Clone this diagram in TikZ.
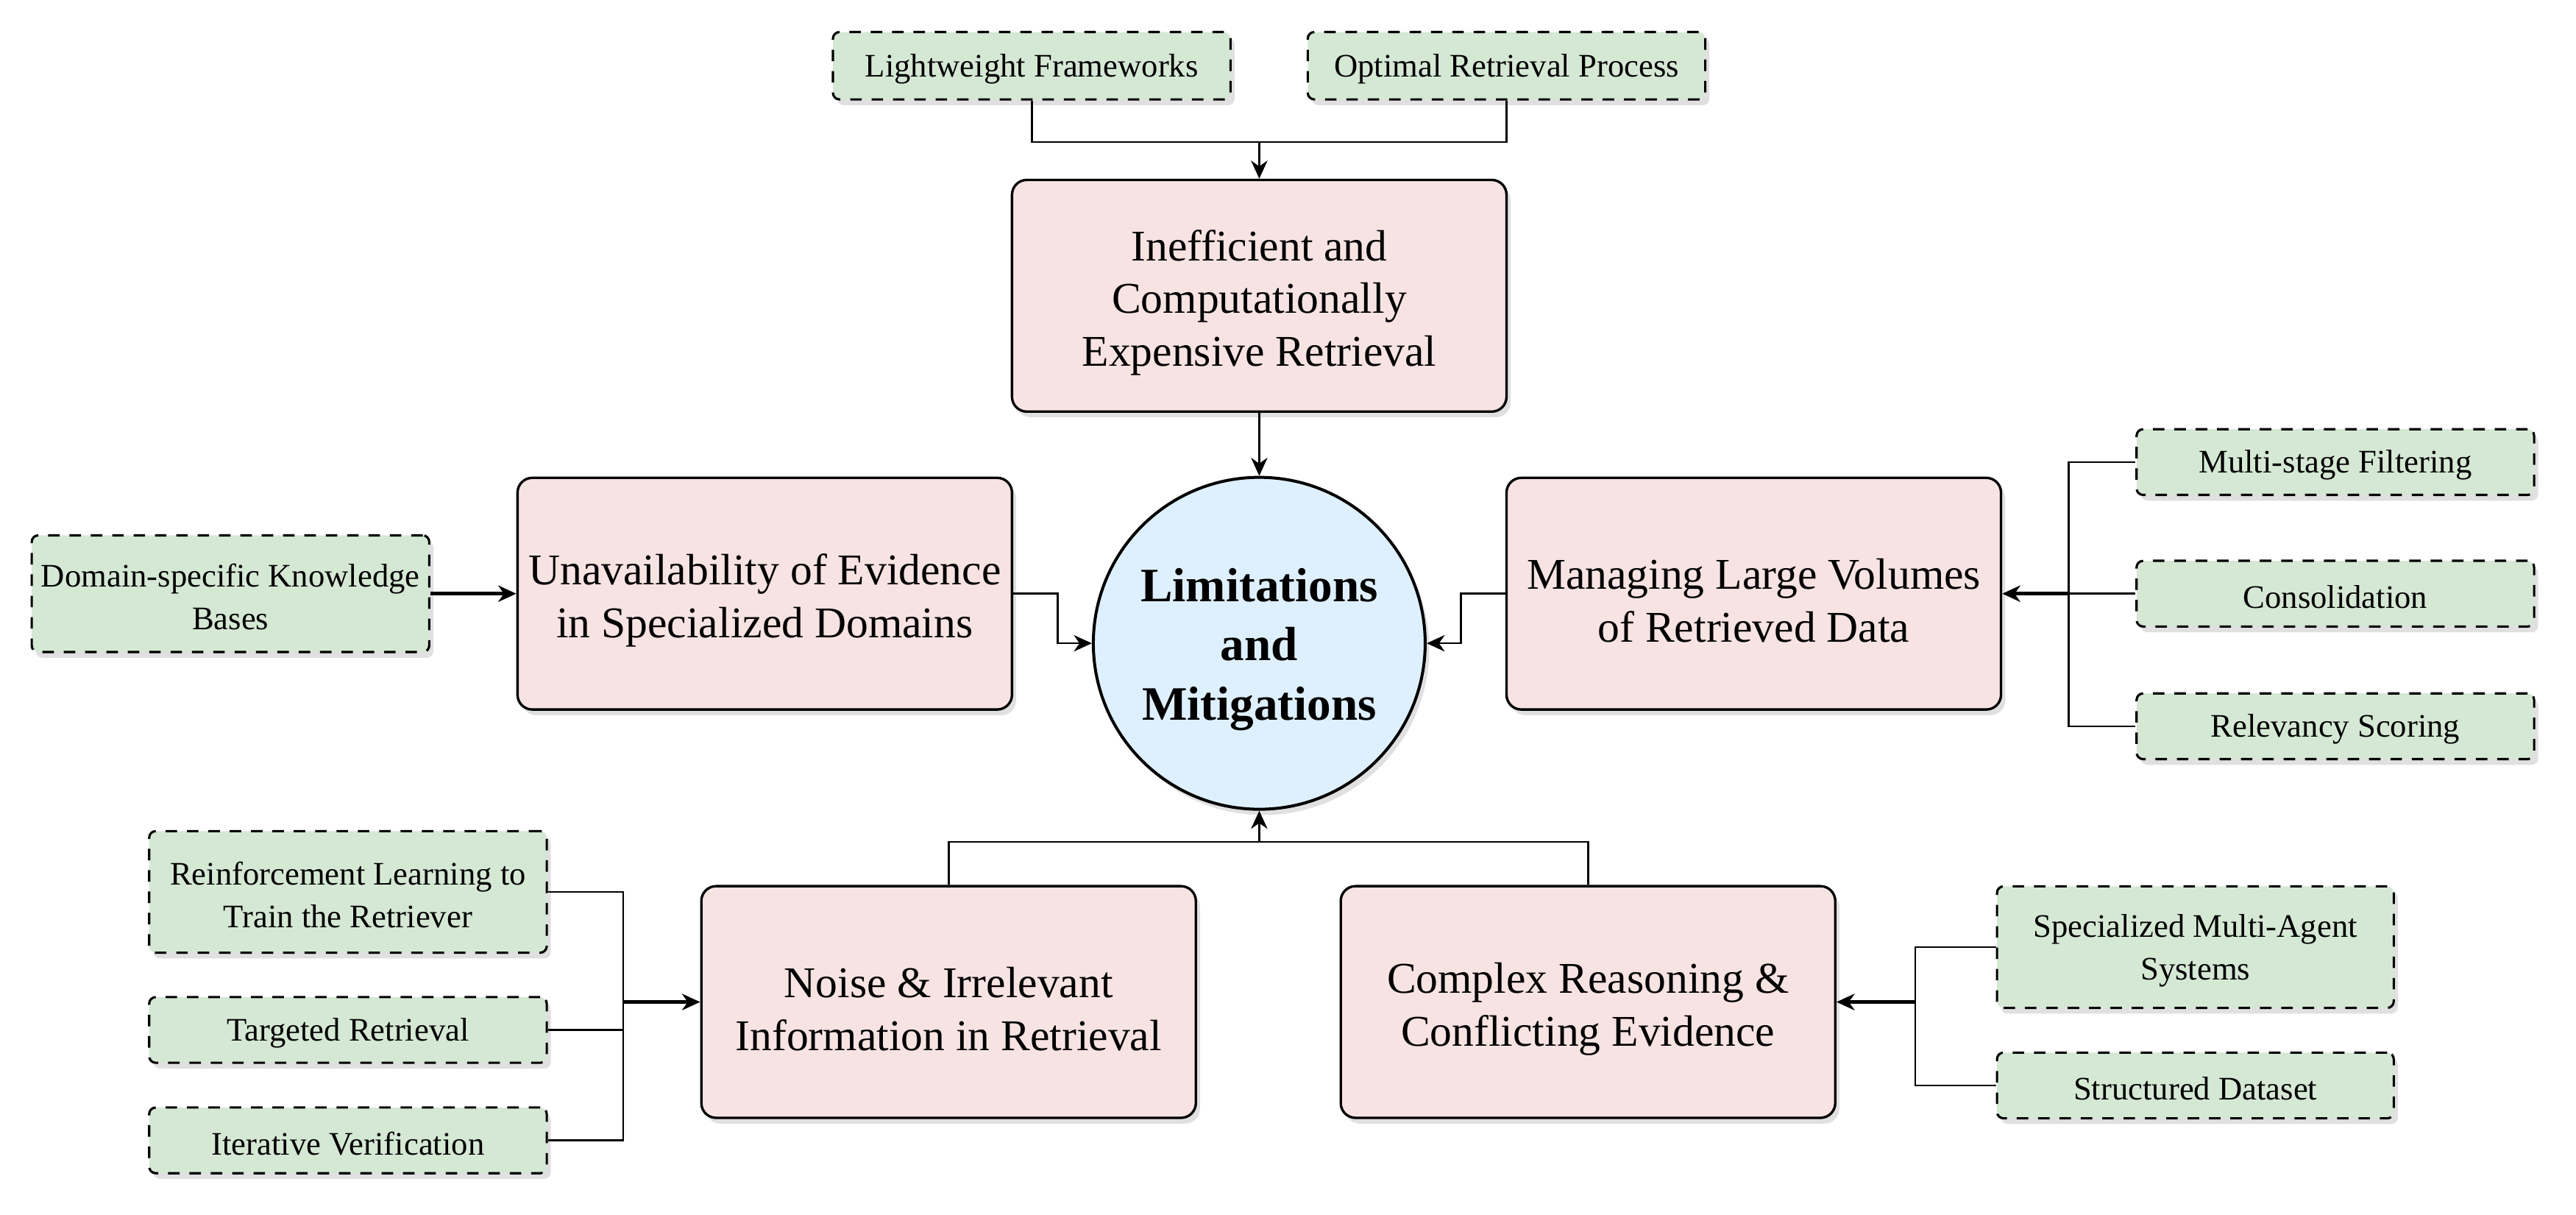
\documentclass[tikz,border=0pt]{standalone}
\usepackage{fontspec}
\setmainfont{Liberation Serif}
\usetikzlibrary{arrows.meta,shadows,calc}
\definecolor{pinkc}{HTML}{F8E3E3}
\definecolor{greenc}{HTML}{D5E8D4}
\definecolor{bluec}{HTML}{DEF0FD}
\newcommand\liftP{\rule{0pt}{27pt}}
\newcommand\liftG{\rule{0pt}{17.8pt}}
\newcommand\liftC{\rule{0pt}{27.5pt}}
\tikzset{
  shad/.style={drop shadow={shadow xshift=2.5pt,shadow yshift=-3.5pt,opacity=0.2,fill=black!60}},
  pinkbox/.style={rectangle,rounded corners=9pt,draw=black,line width=1.5pt,fill=pinkc,
    minimum width=301pt,minimum height=141pt,inner sep=0pt,align=center,
    font=\fontsize{26.7}{32}\selectfont,shad},
  greenbox/.style={rectangle,rounded corners=4pt,draw=black,dash pattern=on 7pt off 6pt,
    line width=1.4pt,fill=greenc,minimum width=242pt,minimum height=41pt,inner sep=0pt,
    align=center,font=\fontsize{20}{26}\selectfont,shad},
  hubnode/.style={circle,draw=black,line width=1.8pt,fill=bluec,minimum size=202pt,
    inner sep=0pt,align=center,font=\fontsize{29.2}{36}\selectfont\bfseries,shad},
  conn/.style={draw=black,line width=1.2pt},
  arr/.style={conn,-{Stealth[length=11pt,width=10pt,inset=3.5pt]}},
  arrthick/.style={draw=black,line width=2pt,-{Stealth[length=11pt,width=10pt,inset=3.5pt]}}
}
\begin{document}
\begin{tikzpicture}[x=1pt,y=-1pt]
\useasboundingbox (0,0) rectangle (1568,739);
% top
\node[greenbox] (lw) at (628,40) {\liftG Lightweight Frameworks};
\node[greenbox] (orp) at (917,40) {\liftG Optimal Retrieval Process};
\node[pinkbox] (top) at (766.5,180) {\liftP Inefficient and\\Computationally\\Expensive Retrieval};
% hub
\node[hubnode] (hub) at (766.5,391.5) {\liftC Limitations\\and\\Mitigations};
% left
\node[pinkbox] (ul) at (465.5,361.3) {\liftP Unavailability of Evidence\\in Specialized Domains};
\node[greenbox,minimum height=71pt] (dk) at (140.3,361.3) {\liftG Domain-specific Knowledge\\Bases};
% right
\node[pinkbox] (mr) at (1067.5,361.3) {\liftP Managing Large Volumes\\of Retrieved Data};
\node[greenbox,minimum height=40pt] (mf) at (1421.5,281.2) {\liftG Multi-stage Filtering};
\node[greenbox,minimum height=40pt] (co) at (1421.5,361.3) {\liftG Consolidation};
\node[greenbox,minimum height=40pt] (rs) at (1421.5,442) {\liftG Relevancy Scoring};
% bottom
\node[pinkbox] (noise) at (577.4,609.8) {\liftP Noise \& Irrelevant\\Information in Retrieval};
\node[pinkbox] (cr) at (966.6,609.8) {\liftP Complex Reasoning \&\\Conflicting Evidence};
\node[greenbox,minimum height=74pt] (rl) at (211.8,542.8) {\liftG Reinforcement Learning to\\Train the Retriever};
\node[greenbox,minimum height=40pt] (tr) at (211.8,626.8) {\liftG Targeted Retrieval};
\node[greenbox,minimum height=40pt] (iv) at (211.8,694) {\liftG Iterative Verification};
\node[greenbox,minimum height=74pt,minimum width=241.5pt] (sm) at (1336.3,576.4) {\liftG Specialized Multi-Agent\\Systems};
\node[greenbox,minimum height=40pt,minimum width=241.5pt] (sd) at (1336.3,660.6) {\liftG Structured Dataset};
% junctions
\coordinate (tj) at (766.5,86.5);
\coordinate (rj) at (1259.3,361.3);
\coordinate (bj) at (766.5,512.4);
\coordinate (lj) at (379.4,609.8);
\coordinate (brj) at (1165.8,609.8);
% connectors
\draw[conn] (lw.south) |- (tj) -| (orp.south);
\draw[arr] (tj) -- (top.north);
\draw[arr] (top.south) -- (hub.north);
\draw[arr] (ul.east) -- ++(27,0) |- (hub.west);
\draw[arr] (mr.west) -- ++(-27,0) |- (hub.east);
\draw[arrthick] (dk.east) -- (ul.west);
\draw[conn] (mf.west) -| (rj) |- (rs.west);
\draw[conn] (co.west) -- (rj);
\draw[arrthick] (rj) -- (mr.east);
\draw[conn] (noise.north) |- (bj) -| (cr.north);
\draw[arr] (bj) -- (hub.south);
\draw[conn] (rl.east) -| (lj) |- (iv.east);
\draw[conn] (tr.east) -- (tr.east -| lj);
\draw[arrthick] (lj) -- (noise.west);
\draw[conn] (sm.west) -| (brj) |- (sd.west);
\draw[arrthick] (brj) -- (cr.east);
\end{tikzpicture}
\end{document}
